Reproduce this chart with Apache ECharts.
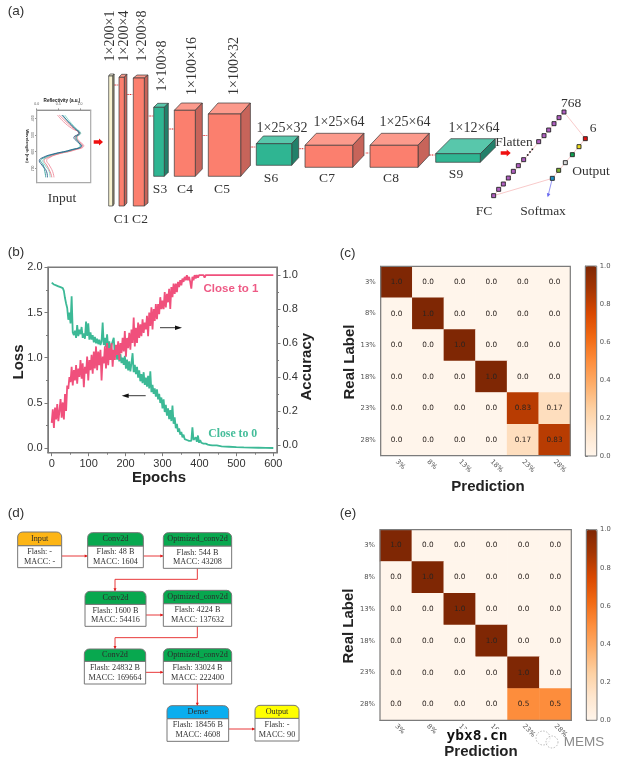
<!DOCTYPE html>
<html><head><meta charset="utf-8">
<style>html,body{margin:0;padding:0;background:#fff}#c{width:624px;height:766px;filter:blur(0.4px)}</style>
<script src="https://cdn.jsdelivr.net/npm/echarts@6/dist/echarts.min.js"></script></head>
<body><div id="c"></div>
<script>
// ---------- data: panel (b) ----------
const epochs=[0,3,6,9,12,15,18,21,24,27,
30,33,36,39,42,45,48,51,54,57,
60,63,66,69,72,75,78,81,84,87,
90,93,96,99,102,105,108,111,114,117,
120,123,126,129,132,135,138,141,144,147,
150,153,156,159,162,165,168,171,174,177,
180,183,186,189,192,195,198,201,204,207,
210,213,216,219,222,225,228,231,234,237,
240,243,246,249,252,255,258,261,264,267,
270,273,276,279,282,285,288,291,294,297,
300,303,306,309,312,315,318,321,324,327,
330,333,336,339,342,345,348,351,354,357,
360,363,366,369,372,375,378,381,384,387,
390,393,396,399,402,405,408,411,414,417,
420,423,426,429,432,435,438,441,444,447,
450,460,480,500,520,540,560,580,600];
const lossValues=[1.83,1.82,1.81,1.80,1.80,1.79,1.79,1.78,1.78,1.77,
1.77,1.74,1.66,1.60,1.55,1.42,1.50,1.38,1.68,1.28,
1.25,1.30,1.22,1.36,1.24,1.31,1.26,1.34,1.22,1.27,
1.21,1.40,1.24,1.38,1.20,1.28,1.20,1.25,1.17,1.23,
1.16,1.21,1.15,1.20,1.14,1.18,1.39,1.14,1.22,1.12,
1.26,1.10,1.18,1.08,1.14,1.16,1.22,1.02,1.10,.98,
1.06,.96,1.04,.94,1.00,.92,1.02,.88,.98,.86,
.96,.85,.94,1.05,.84,.92,.82,.90,.78,.86,
.74,.82,.72,.84,.70,.78,.68,.80,.66,.85,
.62,.70,.60,.66,.57,.65,.54,.60,.50,.56,
.44,.54,.40,.48,.36,.44,.32,.42,.30,.47,
.27,.34,.22,.27,.18,.22,.15,.18,.12,.15,
.10,.12,.09,.11,.08,.10,.08,.23,.09,.07,
.12,.07,.14,.06,.09,.06,.07,.05,.06,.05,
.05,.04,.045,.035,.04,.03,.035,.03,.028,.03,
.025,.02,.016,.012,.009,.007,.005,.003,.002];
const accuracyValues=[.13,.21,.10,.22,.15,.24,.14,.20,.27,.16,
.25,.15,.30,.20,.35,.33,.40,.37,.46,.35,
.44,.38,.47,.36,.45,.40,.50,.39,.48,.34,
.46,.42,.52,.38,.50,.44,.53,.42,.55,.45,
.58,.44,.55,.47,.56,.38,.52,.48,.58,.45,
.60,.47,.57,.50,.60,.46,.56,.50,.59,.53,
.61,.50,.60,.54,.63,.55,.67,.52,.63,.57,
.66,.56,.68,.60,.75,.58,.69,.60,.72,.63,
.71,.64,.74,.66,.72,.68,.76,.64,.78,.70,
.81,.68,.80,.73,.83,.74,.83,.77,.87,.80,
.85,.80,.90,.81,.89,.84,.92,.80,.93,.87,
.95,.89,.95,.90,.96,.93,.97,.94,.98,.96,
.99,.97,1,.97,.99,.96,.92,.99,.97,1,
.98,1,.985,1,.99,1,.99,1,.985,1,
.99,1,.99,1,.99,1,.992,1,1,1,
1,1,1,1,1,1,1,1,1];
const epochTicks=[0,100,200,300,400,500,600];
const epochMinor=[50,150,250,350,450,550];
const lossTicks=[0,0.5,1,1.5,2];
const lossMinor=[0.25,0.75,1.25,1.75];
const accTicks=[0,0.2,0.4,0.6,0.8,1];
const accMinor=[0.1,0.3,0.5,0.7,0.9];
// ---------- data: panels (c), (e) ----------
const labels=['3%','8%','13%','18%','23%','28%'];
const matrixC=[[1,0,0,0,0,0],[0,1,0,0,0,0],[0,0,1,0,0,0],[0,0,0,1,0,0],[0,0,0,0,0.83,0.17],[0,0,0,0,0.17,0.83]];
const matrixE=[[1,0,0,0,0,0],[0,1,0,0,0,0],[0,0,1,0,0,0],[0,0,0,1,0,0],[0,0,0,0,1,0],[0,0,0,0,0.5,0.5]];
const oranges=['#fff5eb','#fee6ce','#fdd0a2','#fdae6b','#fd8d3c','#f16913','#d94801','#a63603','#7f2704'];
// ---------- data: input inset in (a) ----------
const insetWavelengths=[380,420,460,490,514,540,564,590,614,634,654,680,720,754];
const insetCurves=[
 {c:'#7fd8c8',v:[.65,.77,.91,1.02,.92,.97,1.0,.77,.42,.23,.14,.19,.29,.31]},
 {c:'#ef8f9f',v:[.48,.62,.81,1.0,.94,1.0,1.09,.88,.50,.31,.23,.29,.37,.40]},
 {c:'#e87a86',v:[.52,.68,.85,.97,.89,.98,1.06,.85,.48,.27,.17,.23,.31,.35]},
 {c:'#2f9a96',v:[.60,.73,.88,1.0,.91,.96,1.02,.81,.42,.19,.09,.15,.19,.21]},
 {c:'#2b5f8a',v:[.58,.73,.88,.98,.86,.94,1.04,.78,.38,.15,.06,.12,.23,.25]}];
// ---------- schematic content (a) ----------
const SAL=['#fb7f6e','#fc9a8c','#c7645a'],TEA=['#2fb592','#58c7ab','#22806a'],BEI=['#f8f3cf','#fbf8e2','#a89f7a'];
const blocks=[[108.7,76,4,130,1.4,-2,BEI],[119,77.3,5.3,128.7,2.6,-3,SAL],[133.3,78,11,128,3.7,-3,SAL],
 [153.7,107.3,10.6,69,4,-4,TEA],[174.3,110.3,21,66,7,-7.3,SAL],[208.3,114,32.4,62.3,9.7,-11,SAL],
 [256.3,143.7,35.4,21.6,7,-7.7,TEA],[305,145.3,47.7,22,11.3,-12,SAL],[370,145.3,48,22,11.3,-12,SAL],[435.7,153.7,44.6,8.6,15,-15,TEA]];
const links=[[113,85,119],[126,94.5,133],[148,116,154],[168,129,175],[202,135.5,208],[250,147,256],[298,148.7,305],[365,153,370],[428,155,436]];
const rotatedDims=[['1×200×1',110.7,36],['1×200×4',124,36],['1×200×8',142.3,36],['1×100×8',162,66],['1×100×16',192.7,66],['1×100×32',234,66]];
const flatDims=[['1×25×32',282,128],['1×25×64',339,122],['1×25×64',405,122],['1×12×64',474,128]];
const layerNames=[['C1',121.7,219],['C2',140,219],['S3',160,189],['C4',185,189],['C5',222,189],['S6',271,178],['C7',327,178],['C8',391,178],['S9',456,174],
 ['Flatten',514,142],['768',571,103],['6',593,128],['Output',591,171],['FC',484,211],['Softmax',543,211],['Input',62,198]];
const fcNodes=[[581,587],[596,568],[610,552],[625,534],[640,514],[655,497],[671,479],[716,425],[732,407],[746,390],[762,371],[777,353],[792,336]];
const outNodes=[[757,535,'#1f8fc0'],[776,511,'#7fb030'],[796,488,'#d8d8d8'],[817,464,'#10a050'],[837,440,'#f0e020'],[856,416,'#e01010']];
// ---------- schematic content (d) ----------
const flowNodes=[['Input','Flash: -','MACC: -',53,185,111,152,218,'#fdb515'],
['Conv2d','Flash: 48 B','MACC: 1604',263,430,113,153,218,'#08a84f'],
['Optmized_conv2d','Flash: 544 B','MACC: 43208',490,695,113,153,220,'#08a84f'],
['Conv2d','Flash: 1600 B','MACC: 54416',255,438,289,328,394,'#08a84f'],
['Optmized_conv2d','Flash: 4224 B','MACC: 137632',490,695,286,326,394,'#08a84f'],
['Conv2d','Flash: 24832 B','MACC: 169664',253,437,462,499,567,'#08a84f'],
['Optmized_conv2d','Flash: 33024 B','MACC: 222400',490,695,461,499,567,'#08a84f'],
['Dense','Flash: 18456 B','MACC: 4608',501,686,632,671,739,'#0aaeef'],
['Output','Flash: -','MACC: 90',765,897,631,670,738,'#ffff00']];
const flowArrows=[[[185,183],[263,183]],[[430,183],[490,183]],[[592,220],[592,253],[345,253],[345,289]],[[438,360],[490,360]],
[[592,394],[592,428],[345,428],[345,462]],[[437,532],[490,532]],[[592,567],[592,632]],[[686,702],[765,702]]];

// ---------- graphic helpers ----------
const SERIF='"Liberation Serif"',SANS='"Liberation Sans"';
const els=[];
function txt(t,x,y,size,o={}){els.push({type:'text',x,y,rotation:o.rot||0,z:50,silent:true,style:{text:t,x:0,y:0,align:'center',verticalAlign:'middle',fontSize:size,fontFamily:o.font||SERIF,fontWeight:o.w||'normal',fill:o.c||'#333'}});}
function poly(pts,fill,stroke,lw){els.push({type:'polygon',z:40,silent:true,shape:{points:pts},style:{fill,stroke:stroke||null,lineWidth:lw||0}});}
function line(pts,stroke,lw,dash){els.push({type:'polyline',z:39,silent:true,shape:{points:pts},style:{stroke,lineWidth:lw,fill:null,lineDash:dash||null}});}
function head(p,q,len,wid,c){const a=Math.atan2(q[1]-p[1],q[0]-p[0]),cs=Math.cos(a),s=Math.sin(a);
 poly([q,[q[0]-len*cs+wid*s,q[1]-len*s-wid*cs],[q[0]-len*cs-wid*s,q[1]-len*s+wid*cs]],c);}
function block(x,y,w,h,dx,dy,col){const S='#3a3a3a',L=.7;
 poly([[x,y],[x+dx,y+dy],[x+w+dx,y+dy],[x+w,y]],col[1],S,L);
 poly([[x+w,y],[x+w+dx,y+dy],[x+w+dx,y+h+dy],[x+w,y+h]],col[2],S,L);
 poly([[x,y],[x+w,y],[x+w,y+h],[x,y+h]],col[0],S,L);}
function redBlock(x0,x1,y){ // thick red arrow
 poly([[x0,y-1.8],[x1-4,y-1.8],[x1-4,y-3.6],[x1,y],[x1-4,y+3.6],[x1-4,y+1.8],[x0,y+1.8]],'#f01010');}
blocks.forEach(b=>block(...b));
links.forEach(([a,y,b])=>{line([[a,y],[b,y]],'#f4b0b0',.7);line([[a+1.5,y],[b-1.5,y]],'#e03030',1,[1.2,1.2]);});
rotatedDims.forEach(([t,x,y])=>txt(t,x,y,14,{rot:Math.PI/2}));
flatDims.forEach(([t,x,y])=>txt(t,x,y,14));
layerNames.forEach(([t,x,y])=>txt(t,x,y,13.5));
redBlock(93.7,103,142);redBlock(500.7,510.7,153);
const P=([a,b])=>[300+a/3,b/3];
line([P([581,587]),P([792,336]),P([856,416]),P([757,535]),P([581,587])],'#f6bcbc',.8);
line([P([757,535]),P([744,588])],'#7a7af0',.8);head(P([757,535]),P([743,592]),4,1.8,'#6a6af0');
fcNodes.forEach(n=>{const [x,y]=P(n);poly([[x-2,y-2],[x+2,y-2],[x+2,y+2],[x-2,y+2]],'#b060c0','#222',.9);});
[[683,465],[690,456],[697,448]].forEach(n=>{const [x,y]=P(n);poly([[x-.8,y-.8],[x+.8,y-.8],[x+.8,y+.8],[x-.8,y+.8]],'#111');});
outNodes.forEach(n=>{const [x,y]=P(n);poly([[x-2,y-2],[x+2,y-2],[x+2,y+2],[x-2,y+2]],n[2],'#222',.9);});
// flow chart (d)
const D=(a,b)=>[a/3,495+b/3];
flowArrows.forEach(a=>{const p=a.map(q=>D(q[0],q[1]));line(p,'#e8393a',1);head(p[p.length-2],p[p.length-1],3,1.5,'#e01818');});
flowNodes.forEach(([h,f,m,x0,x1,y0,y1,y2,col])=>{const [X0,Y0]=D(x0,y0),[X1,Y1]=D(x1,y1),Y2=D(0,y2)[1];
 els.push({type:'rect',z:40,silent:true,shape:{x:X0,y:Y1,width:X1-X0,height:Y2-Y1},style:{fill:'#fff',stroke:'#777',lineWidth:1}});
 els.push({type:'rect',z:40,silent:true,shape:{x:X0,y:Y0,width:X1-X0,height:Y1-Y0,r:[5,5,0,0]},style:{fill:col,stroke:'#777',lineWidth:1}});
 const c=(X0+X1)/2;txt(h,c,(Y0+Y1)/2,8.2,{c:'#2c2c2c'});
 txt(f,c,Y1+(Y2-Y1)*.285,8.2,{c:'#333'});txt(m,c,Y1+(Y2-Y1)*.72,8.2,{c:'#333'});});
// panel letters
[['(a)',16,11.7],['(b)',16,252.7],['(c)',347.7,253],['(d)',16,513],['(e)',348,513]].forEach(([t,x,y])=>txt(t,x,y,13.5,{font:SANS}));
// titles (b)
txt('Loss',19,362,15,{font:SANS,w:'bold',c:'#222',rot:Math.PI/2});
txt('Accuracy',306.7,366.7,15,{font:SANS,w:'bold',c:'#222',rot:Math.PI/2});
txt('Epochs',159,477.7,15,{font:SANS,w:'bold',c:'#222'});
txt('Close to 1',231,289,11.5,{font:SANS,w:'bold',c:'#ee5a85'});
txt('Close to 0',232.7,433.7,11.8,{font:SERIF,w:'bold',c:'#45bd9a'});
line([[160,327.7],[178,327.7]],'#222',.9);head([160,327.7],[182,327.7],7,2.2,'#111');
line([[145.7,395.7],[126,395.7]],'#222',.9);head([145.7,395.7],[121.7,395.7],7,2.2,'#111');
// titles (c),(e)
txt('Prediction',488,487,15,{font:SANS,w:'bold',c:'#222'});
txt('Real Label',350,362,15,{font:SANS,w:'bold',c:'#222',rot:Math.PI/2});
txt('Prediction',481,752,15,{font:SANS,w:'bold',c:'#222'});
txt('Real Label',349,626,15,{font:SANS,w:'bold',c:'#222',rot:Math.PI/2});
// inset captions
txt('Reflectivity (a.u.)',62,100.5,4.6,{font:SANS,w:'bold',c:'#222'});
txt('Wavelength (nm)',27.5,146,4.2,{font:SANS,w:'bold',c:'#222',rot:-Math.PI/2});
// watermark
els.push({type:'rect',z:48,silent:true,shape:{x:444,y:729,width:66,height:14},style:{fill:'#fff'}});
txt('ybx8.cn',477,736,14.5,{font:'"DejaVu Sans Mono"',w:'bold',c:'#111'});
txt('MEMS',584,742,13.5,{font:SANS,c:'#8a8a8a'});
[[543,738,7],[552,742,6]].forEach(([x,y,r])=>els.push({type:'circle',z:49,silent:true,shape:{cx:x,cy:y,r},style:{fill:'rgba(255,255,255,0.6)',stroke:'#aaa',lineWidth:.8,lineDash:[1.5,1.5]}}));

// ---------- chart ----------
const AX='#7b7b7b',TK='#333';
const grids=[
 {left:48,top:267.3,width:229,height:185.4,show:true,borderColor:AX,borderWidth:1.5,backgroundColor:'transparent',z:1},
 {left:380.7,top:266.3,width:189.6,height:189.4,show:true,borderColor:AX,borderWidth:1.2,backgroundColor:'transparent',z:10},
 {left:585.3,top:266,width:11.4,height:190,show:true,borderColor:AX,borderWidth:1,backgroundColor:'transparent',z:10},
 {left:380,top:529.7,width:191.3,height:190.6,show:true,borderColor:AX,borderWidth:1.2,backgroundColor:'transparent',z:10},
 {left:586.3,top:529.7,width:10.7,height:190.6,show:true,borderColor:AX,borderWidth:1,backgroundColor:'transparent',z:10},
 {left:36.7,top:110,width:54,height:72.7,show:true,borderColor:'#aaa',borderWidth:1.2,backgroundColor:'transparent',z:1}];
function valAxis(gridIndex,min,max,pos,ticks,len,labeled,size,color,digits){
 return {type:'value',gridIndex,min,max,position:pos,scale:true,splitLine:{show:false},
  axisLine:{show:true,onZero:false,lineStyle:{color:AX,width:1}},
  axisTick:{show:true,length:len,customValues:ticks,lineStyle:{color:AX,width:1}},
  axisLabel:{show:labeled,customValues:ticks,fontSize:size,color,margin:len+2,fontFamily:SANS,formatter:v=>digits==null?String(v):Number(v).toFixed(digits)}};}
const xAxes=[
 valAxis(0,-10,610,'bottom',epochTicks,3.5,true,11,TK,null),
 valAxis(0,-10,610,'bottom',epochMinor,2,false,10,TK,null)];
const yAxes=[
 valAxis(0,-0.05,2,'left',lossTicks,3.5,true,11,TK,1),
 valAxis(0,-0.05,2,'left',lossMinor,2,false,10,TK,1),
 valAxis(0,-0.0461,1.0461,'right',accTicks,3.5,true,11,TK,1),
 valAxis(0,-0.0461,1.0461,'right',accMinor,2,false,10,TK,1)];
function heatAxes(g,cb){
 const common={gridIndex:g,type:'category',data:labels,splitLine:{show:false},axisLine:{lineStyle:{color:AX}},axisTick:{alignWithLabel:true,length:3,lineStyle:{color:AX}}};
 xAxes.push({...common,position:'bottom',axisLabel:{rotate:-45,fontSize:6.8,color:'#555',fontFamily:'"DejaVu Sans"',margin:5}});
 yAxes.push({...common,position:'left',inverse:true,axisLabel:{fontSize:6.8,color:'#555',fontFamily:'"DejaVu Sans"',margin:5}});
 xAxes.push({type:'value',gridIndex:cb,min:0,max:1,show:false});
 yAxes.push({type:'value',gridIndex:cb,min:0,max:1,interval:0.2,position:'right',splitLine:{show:false},axisLine:{show:true,lineStyle:{color:AX}},
  axisTick:{length:2.5,lineStyle:{color:AX}},axisLabel:{fontSize:6.8,color:'#555',margin:3,fontFamily:'"DejaVu Sans"',formatter:v=>v.toFixed(1)}});
}
heatAxes(1,2);heatAxes(3,4);
xAxes.push(valAxis(5,0,1.25,'top',[0,0.5,1],1.5,true,3.5,'#555',1));
yAxes.push({...valAxis(5,350,786,'left',[400,600,800],1.5,true,3.5,'#555',0),inverse:true,axisLabel:{show:true,rotate:90,fontSize:3.5,color:'#555',margin:1.5,customValues:[400,500,600,700]},axisTick:{show:true,length:1.5,customValues:[400,500,600,700],lineStyle:{color:AX}}});
const xIdx=xAxes.length-1,yIdx=yAxes.length-1;
function cells(m){const d=[];m.forEach((r,i)=>r.forEach((v,j)=>d.push([j,i,v])));return d;}
function heat(m,xi,yi){return {type:'heatmap',xAxisIndex:xi,yAxisIndex:yi,data:cells(m),progressive:0,
 label:{show:true,fontSize:7.3,color:'#2c2420',fontFamily:'"DejaVu Sans"',formatter:p=>{const v=p.value[2];return Number.isInteger(v)?v.toFixed(1):String(v);}},
 itemStyle:{borderWidth:0},emphasis:{disabled:true}};}
const series=[
 {type:'line',name:'Loss',xAxisIndex:0,yAxisIndex:0,data:epochs.map((e,i)=>[e,lossValues[i]]),showSymbol:false,lineStyle:{color:'#3cb996',width:1.8},itemStyle:{color:'#3cb996'},z:3},
 {type:'line',name:'Accuracy',xAxisIndex:0,yAxisIndex:2,data:epochs.map((e,i)=>[e,accuracyValues[i]]),showSymbol:false,lineStyle:{color:'#f0507c',width:1.8},itemStyle:{color:'#f0507c'},z:4},
 heat(matrixC,2,4),heat(matrixE,4,6)];
insetCurves.forEach(c=>series.push({type:'line',xAxisIndex:xIdx,yAxisIndex:yIdx,smooth:true,showSymbol:false,data:c.v.map((r,i)=>[r,insetWavelengths[i]]),lineStyle:{color:c.c,width:.9}}));
const chart=echarts.init(document.getElementById('c'),null,{renderer:'canvas'});
chart.setOption({animation:false,backgroundColor:'#fff',tooltip:{show:false},
 grid:grids,xAxis:xAxes,yAxis:yAxes,series,
 visualMap:[
  {type:'continuous',min:0,max:1,seriesIndex:2,left:585.3,top:266,itemWidth:11.4,itemHeight:190,padding:0,calculable:false,text:null,showLabel:false,inRange:{color:oranges},hoverLink:false},
  {type:'continuous',min:0,max:1,seriesIndex:3,left:586.3,top:529.7,itemWidth:10.7,itemHeight:190.6,padding:0,calculable:false,text:null,showLabel:false,inRange:{color:oranges},hoverLink:false}],
 graphic:{elements:els}});
</script></body></html>
